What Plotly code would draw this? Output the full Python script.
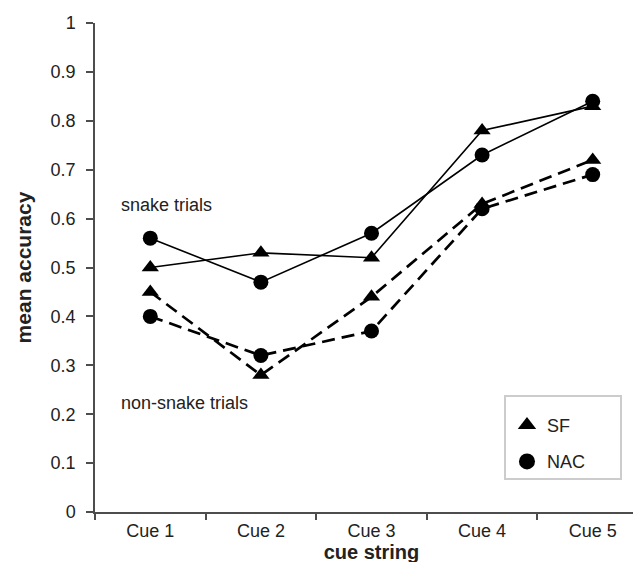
import plotly.graph_objects as go

cues = ["Cue 1", "Cue 2", "Cue 3", "Cue 4", "Cue 5"]
sf_snake = [0.50, 0.53, 0.52, 0.78, 0.83]
nac_snake = [0.56, 0.47, 0.57, 0.73, 0.84]
sf_nonsnake = [0.45, 0.28, 0.44, 0.63, 0.72]
nac_nonsnake = [0.40, 0.32, 0.37, 0.62, 0.69]
yticks = [0, 0.1, 0.2, 0.3, 0.4, 0.5, 0.6, 0.7, 0.8, 0.9, 1]
yticklabels = ["0", "0.1", "0.2", "0.3", "0.4", "0.5", "0.6", "0.7", "0.8", "0.9", "1"]

FONT = "Liberation Sans, Arial, sans-serif"
TXT = "#222222"
AX = "#4d4d4d"

fig = go.Figure()

def add(y, symbol, dash, width):
    fig.add_trace(go.Scatter(
        x=cues, y=y, mode="lines+markers", showlegend=False,
        line=dict(color="black", width=width, dash=dash),
        marker=dict(symbol=symbol, size=15, color="black"),
        cliponaxis=False,
    ))

add(sf_snake, "triangle-up", "solid", 1.6)
add(nac_snake, "circle", "solid", 1.6)
add(sf_nonsnake, "triangle-up", "13px,7px", 2.7)
add(nac_nonsnake, "circle", "13px,7px", 2.7)

fig.add_trace(go.Scatter(x=[None], y=[None], mode="markers", name="SF",
                         marker=dict(symbol="triangle-up", size=17, color="black"),
                         legendgroup="a"))
fig.add_trace(go.Scatter(x=[None], y=[None], mode="markers", name="NAC",
                         marker=dict(symbol="circle", size=17, color="black"),
                         legendgroup="b"))

fig.update_layout(
    width=641, height=562,
    margin=dict(l=87, r=1, t=15, b=58),
    paper_bgcolor="white", plot_bgcolor="white",
    font=dict(family=FONT, color=TXT, size=18),
    legend=dict(x=0.745, y=0.215, xanchor="left", yanchor="top",
                bgcolor="rgba(0,0,0,0)", borderwidth=0,
                font=dict(size=18, color=TXT), tracegroupgap=10),
    xaxis=dict(
        type="category", range=[-0.5, 4.5], tickson="boundaries",
        ticks="outside", ticklen=6, tickcolor=AX, tickwidth=1.5,
        showline=True, linecolor=AX, linewidth=1.5, showgrid=False,
        tickfont=dict(size=18, color=TXT), ticklabelstandoff=2, automargin=False,
        title=dict(text="<b>cue string</b>", font=dict(size=20, color=TXT), standoff=1),
    ),
    yaxis=dict(
        range=[0, 1], tickvals=yticks, ticktext=yticklabels,
        ticks="outside", ticklen=7, tickcolor=AX, tickwidth=1.5,
        showline=True, linecolor=AX, linewidth=1.5, showgrid=False, zeroline=False,
        tickfont=dict(size=18, color=TXT), ticklabelstandoff=7, automargin=False,
        title=dict(text="<b>mean accuracy</b>", font=dict(size=21, color=TXT), standoff=13),
    ),
    shapes=[dict(type="rect", xref="paper", yref="paper",
                 x0=(497 - 87) / 553, x1=(613 - 87) / 553,
                 y0=(504 - 471) / 489, y1=(504 - 388) / 489,
                 line=dict(color="#cccccc", width=2), fillcolor="rgba(0,0,0,0)")],
    annotations=[
        dict(text="snake trials", xref="paper", x=(111 - 87) / 553, xanchor="left",
             yref="y", y=0.628, yanchor="middle", showarrow=False,
             font=dict(size=18, color=TXT)),
        dict(text="non-snake trials", xref="paper", x=(111 - 87) / 553, xanchor="left",
             yref="y", y=0.222, yanchor="middle", showarrow=False,
             font=dict(size=18, color=TXT)),
    ],
)

fig.write_html("out.html")
